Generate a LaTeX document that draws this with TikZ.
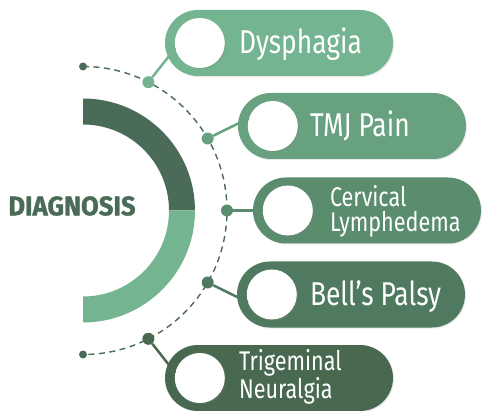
\documentclass[tikz,border=0pt]{standalone}
\usepackage{fontspec}
\setmainfont{Fira Sans}[FakeStretch=0.8]
\newfontfamily\headfont{Fira Sans}[FakeStretch=0.95, BoldFeatures={FakeBold=1.2}]
\usetikzlibrary{calc,shadows}

\definecolor{gA}{HTML}{74B490}
\definecolor{gB}{HTML}{67A17F}
\definecolor{gC}{HTML}{5A8C6E}
\definecolor{gD}{HTML}{4F7A60}
\definecolor{gE}{HTML}{48684F}
\definecolor{arcdark}{HTML}{4A6B57}

\begin{document}
\begin{tikzpicture}[
    x=1pt, y=1pt,
    pill node/.style={rectangle, rounded corners=33pt, minimum width=228pt, minimum height=66pt, inner sep=0pt,
        drop shadow={shadow xshift=1pt, shadow yshift=-1pt, opacity=0.18}},
    hole node/.style={circle, fill=white, minimum size=50pt, inner sep=0pt,
        drop shadow={shadow xshift=1.2pt, shadow yshift=-1.2pt, opacity=0.3}},
    label node/.style={anchor=west, text=white, inner sep=0pt, text height=22pt, text depth=0pt, font=\fontsize{33}{36}\selectfont},
    twoline node/.style={anchor=west, text=white, inner sep=0pt, align=left, font=\fontsize{27}{25}\selectfont},
    dot node/.style={circle, inner sep=0pt, minimum size=12pt},
    end node/.style={circle, fill=arcdark, inner sep=0pt, minimum size=8pt},
    link edge/.style={line width=2.5pt},
    dash edge/.style={arcdark, line width=1.4pt, dash pattern=on 6pt off 4.5pt}
]
\useasboundingbox (0,0) rectangle (482,410);
\coordinate (C) at (83,199.5);

% half ring
\fill[arcdark] ([shift={(90:112)}]C) arc[start angle=90, end angle=0, radius=112]
    -- ([shift={(0:86)}]C) arc[start angle=0, end angle=90, radius=86] -- cycle;
\fill[gA] ([shift={(0:112)}]C) arc[start angle=0, end angle=-90, radius=112]
    -- ([shift={(-90:86)}]C) arc[start angle=-90, end angle=0, radius=86] -- cycle;

\node[font=\headfont\bfseries\fontsize{27}{27}\selectfont, text=arcdark, inner sep=0pt] (diag) at (72,204) {DIAGNOSIS};

% dashed guide
\draw[dash edge] ([shift={(90:144)}]C) arc[start angle=90, end angle=-90, radius=144];
\node[end node] (top) at ([shift={(90:144)}]C) {};
\node[end node] (bot) at ([shift={(-90:144)}]C) {};

% dots on the guide
\node[dot node, fill=gA] (d1) at ([shift={(63:144)}]C) {};
\node[dot node, fill=gB] (d2) at ([shift={(30:144)}]C) {};
\node[dot node, fill=gC] (d3) at ([shift={(0:144)}]C) {};
\node[dot node, fill=gD] (d4) at ([shift={(-30:144)}]C) {};
\node[dot node, fill=gE] (d5) at ([shift={(-63:144)}]C) {};

% pills
\node[pill node, fill=gA] (p1) at (279,367) {};
\node[pill node, fill=gB] (p2) at (352,284) {};
\node[pill node, fill=gC] (p3) at (367,199.5) {};
\node[pill node, fill=gD] (p4) at (351,115.5) {};
\node[pill node, fill=gE] (p5) at (279,32) {};

\foreach \i in {1,...,5} \node[hole node] (h\i) at ($(p\i.west)+(35,0)$) {};

% links
\draw[link edge, gA] (d1) -- (h1.192);
\draw[link edge, gB] (d2) -- (h2.162);
\draw[link edge, gC] (d3) -- (h3.180);
\draw[link edge, gD] (d4) -- (h4.198);
\draw[link edge, gE] (d5) -- (h5.168);

% texts
\node[label node] (t1) at ($(p1.west)+(74,0)$) {Dysphagia};
\node[label node] (t2) at ($(p2.west)+(72,0)$) {TMJ Pain};
\node[twoline node] (t3) at ($(p3.west)+(77,-1)$) {Cervical\\Lymphedema};
\node[label node] (t4) at ($(p4.west)+(73,0)$) {Bell’s Palsy};
\node[twoline node] (t5) at ($(p5.west)+(74,1)$) {Trigeminal\\Neuralgia};

\end{tikzpicture}
\end{document}
